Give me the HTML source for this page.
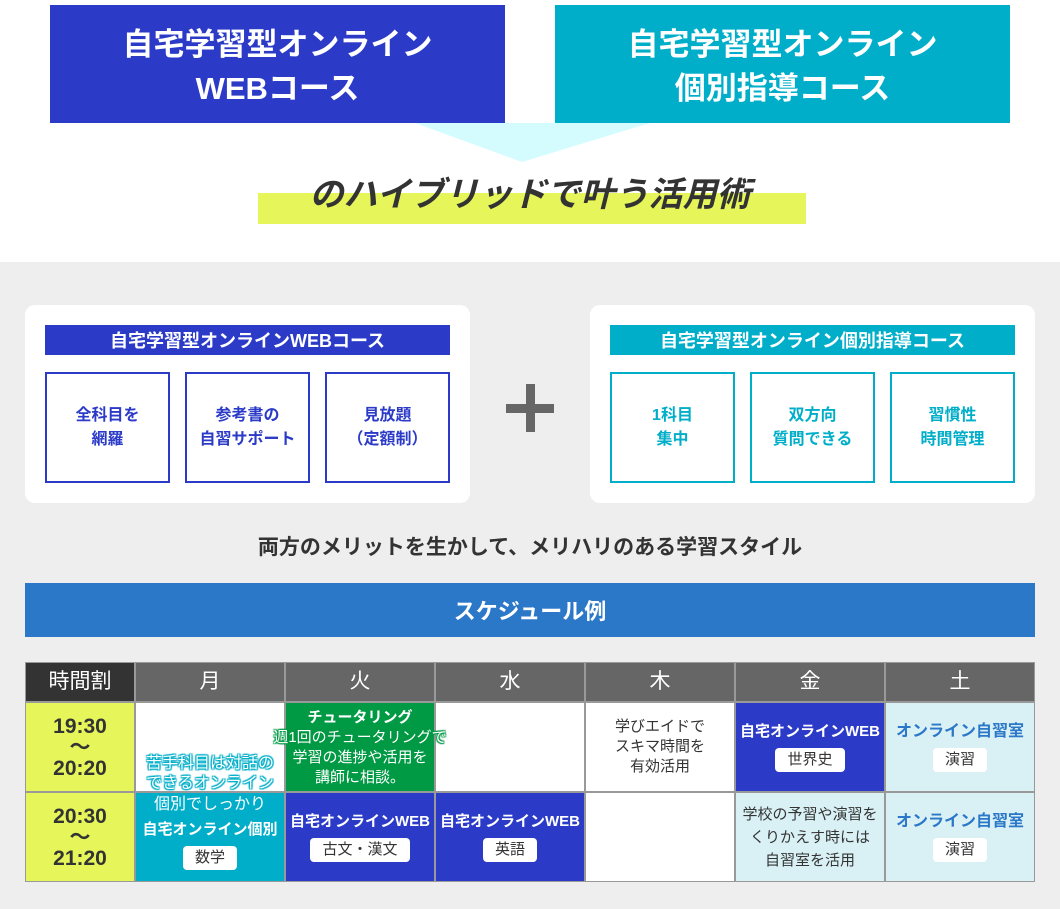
<!DOCTYPE html>
<html><head><meta charset="utf-8"><style>
*{margin:0;padding:0;box-sizing:border-box}
body{width:1060px;height:909px;position:relative;background:#fff;font-family:"Liberation Sans","Noto Sans CJK JP",sans-serif;overflow:hidden}
.a{position:absolute}
.c{display:flex;align-items:center;justify-content:center;text-align:center;flex-direction:column}
.big{color:#fff;font-weight:bold;font-size:31px;line-height:44px}
.box{border:2px solid #2b3bc8;color:#2b3bc8;font-weight:bold;font-size:16px;line-height:24px}
.box2{border:2px solid #00aec9;color:#00aec9;font-weight:bold;font-size:16px;line-height:24px}
.cell{border:1px solid #999;font-size:15px;line-height:20px;color:#333}
.tag{background:#fff;color:#333;border-radius:4px;padding:0 12px;font-size:15px;line-height:24px;margin-top:6px;font-weight:normal}
.wb{color:#fff;font-weight:bold;font-size:15px}
.sat{color:#2b77c8;font-weight:bold;font-size:16px}
</style></head><body>
<svg class="a" style="left:0;top:0" width="1060" height="170"><polygon points="415,123 650,123 522,162" fill="#d4fcff"/></svg>
<div class="a c big" style="left:50px;top:9px;width:455px;height:118px;background:#2b3bc8;top:5px;padding-top:6px">自宅学習型オンライン<br>WEBコース</div>
<div class="a c big" style="left:555px;top:5px;width:455px;height:118px;background:#00aec9;padding-top:6px">自宅学習型オンライン<br>個別指導コース</div>
<div class="a" style="left:258px;top:193px;width:548px;height:31px;background:#e5f55a"></div>
<div class="a c" style="left:200px;top:165px;width:660px;height:52px;font-size:34px;font-weight:bold;font-style:italic;color:#333">のハイブリッドで叶う活用術</div>
<div class="a" style="left:0;top:262px;width:1060px;height:647px;background:#eee"></div>
<div class="a" style="left:25px;top:305px;width:445px;height:198px;background:#fff;border-radius:10px"></div>
<div class="a c" style="left:45px;top:325px;width:405px;height:30px;background:#2b3bc8;color:#fff;font-weight:bold;font-size:18px">自宅学習型オンラインWEBコース</div>
<div class="a c box" style="left:45px;top:372px;width:125px;height:111px">全科目を<br>網羅</div>
<div class="a c box" style="left:185px;top:372px;width:125px;height:111px">参考書の<br>自習サポート</div>
<div class="a c box" style="left:325px;top:372px;width:125px;height:111px">見放題<br>（定額制）</div>
<div class="a" style="left:506px;top:404px;width:48px;height:9px;background:#666"></div>
<div class="a" style="left:526px;top:384px;width:9px;height:48px;background:#666"></div>
<div class="a" style="left:590px;top:305px;width:445px;height:198px;background:#fff;border-radius:10px"></div>
<div class="a c" style="left:610px;top:325px;width:405px;height:30px;background:#00aec9;color:#fff;font-weight:bold;font-size:18px">自宅学習型オンライン個別指導コース</div>
<div class="a c box2" style="left:610px;top:372px;width:125px;height:111px">1科目<br>集中</div>
<div class="a c box2" style="left:750px;top:372px;width:125px;height:111px">双方向<br>質問できる</div>
<div class="a c box2" style="left:890px;top:372px;width:125px;height:111px">習慣性<br>時間管理</div>
<div class="a c" style="left:0;top:530px;width:1060px;height:32px;font-size:21px;font-weight:bold;color:#333">両方のメリットを生かして、メリハリのある学習スタイル</div>
<div class="a c" style="left:25px;top:583px;width:1010px;height:54px;background:#2b77c8;color:#fff;font-size:22px;font-weight:bold">スケジュール例</div>
<div class="a" style="left:25px;top:662px;width:1010px;height:220px;border:1px solid #999;background:#999"></div>
<div class="a c cell" style="left:25px;top:662px;width:110px;height:40px;background:#333;color:#fff;font-size:21px">時間割</div>
<div class="a c cell" style="left:135px;top:662px;width:150px;height:40px;background:#666;color:#fff;font-size:21px">月</div>
<div class="a c cell" style="left:285px;top:662px;width:150px;height:40px;background:#666;color:#fff;font-size:21px">火</div>
<div class="a c cell" style="left:435px;top:662px;width:150px;height:40px;background:#666;color:#fff;font-size:21px">水</div>
<div class="a c cell" style="left:585px;top:662px;width:150px;height:40px;background:#666;color:#fff;font-size:21px">木</div>
<div class="a c cell" style="left:735px;top:662px;width:150px;height:40px;background:#666;color:#fff;font-size:21px">金</div>
<div class="a c cell" style="left:885px;top:662px;width:150px;height:40px;background:#666;color:#fff;font-size:21px">土</div>
<div class="a c cell" style="left:25px;top:702px;width:110px;height:90px;background:#e5f55a;font-size:21px;font-weight:bold;line-height:21px">19:30<br>～<br>20:20</div>
<div class="a c cell" style="left:25px;top:792px;width:110px;height:90px;background:#e5f55a;font-size:21px;font-weight:bold;line-height:21px">20:30<br>～<br>21:20</div>
<div class="a cell" style="left:135px;top:702px;width:150px;height:90px;background:#fff"></div>
<div class="a c cell" style="left:135px;top:792px;width:150px;height:90px;background:#00aec9;justify-content:flex-start;padding-top:27px"><div class="wb">自宅オンライン個別</div><div class="tag">数学</div></div>
<div class="a cell" style="left:285px;top:702px;width:150px;height:90px;background:#009944"></div>
<div class="a c cell" style="left:285px;top:792px;width:150px;height:90px;background:#2b3bc8"><div class="wb">自宅オンラインWEB</div><div class="tag">古文・漢文</div></div>
<div class="a cell" style="left:435px;top:702px;width:150px;height:90px;background:#fff"></div>
<div class="a c cell" style="left:435px;top:792px;width:150px;height:90px;background:#2b3bc8"><div class="wb">自宅オンラインWEB</div><div class="tag">英語</div></div>
<div class="a c cell" style="left:585px;top:702px;width:150px;height:90px;background:#fff">学びエイドで<br>スキマ時間を<br>有効活用</div>
<div class="a cell" style="left:585px;top:792px;width:150px;height:90px;background:#fff"></div>
<div class="a c cell" style="left:735px;top:702px;width:150px;height:90px;background:#2b3bc8"><div class="wb">自宅オンラインWEB</div><div class="tag">世界史</div></div>
<div class="a c cell" style="left:735px;top:792px;width:150px;height:90px;background:#d9f1f5;line-height:23px">学校の予習や演習を<br>くりかえす時には<br>自習室を活用</div>
<div class="a c cell" style="left:885px;top:702px;width:150px;height:90px;background:#d9f1f5"><div class="sat">オンライン自習室</div><div class="tag">演習</div></div>
<div class="a c cell" style="left:885px;top:792px;width:150px;height:90px;background:#d9f1f5"><div class="sat">オンライン自習室</div><div class="tag">演習</div></div>
<div class="a c" style="left:110px;top:754px;width:200px;font-size:16px;line-height:20px;color:#fff;text-shadow:0 0 2px #00aec9,0 0 2px #00aec9,1px 1px 1px #00aec9,-1px -1px 1px #00aec9,1px -1px 1px #00aec9,-1px 1px 1px #00aec9">苦手科目は対話の<br>できるオンライン</div>
<div class="a c" style="left:135px;top:795px;width:150px;font-size:16px;line-height:20px;color:#fff">個別でしっかり</div>
<div class="a c" style="left:255px;top:708px;width:210px;font-size:15px;line-height:20px;color:#fff"><b>チュータリング</b><span style="text-shadow:0 0 2px #009944,1px 1px 1px #009944,-1px -1px 1px #009944,1px -1px 1px #009944,-1px 1px 1px #009944">週1回のチュータリングで</span>学習の進捗や活用を<br>講師に相談。</div>
</body></html>
